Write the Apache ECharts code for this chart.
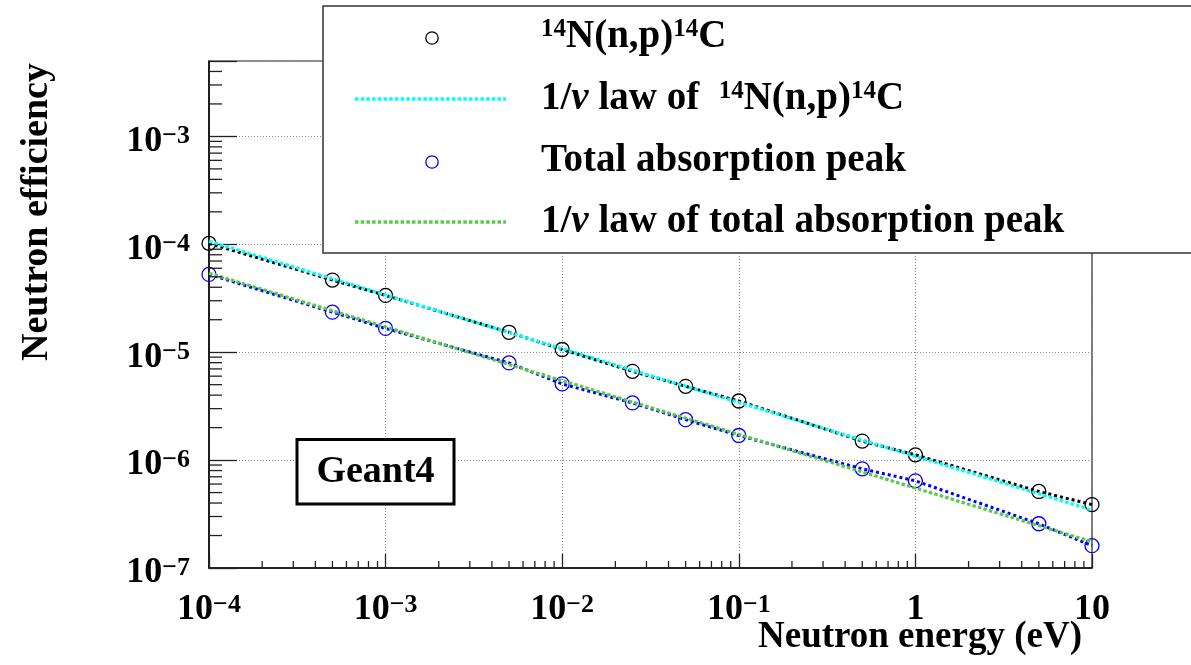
<!DOCTYPE html>
<html><head><meta charset="utf-8">
<script src="https://cdn.jsdelivr.net/npm/echarts@6/dist/echarts.min.js"></script>
<style>html,body{margin:0;padding:0;background:#fff}#c{width:1191px;height:665px}</style>
</head><body><div id="c"></div>
<script>
// ---- data ----
const energies = [1e-4, 5e-4, 1e-3, 5e-3, 1e-2, 2.5e-2, 5e-2, 1e-1, 5e-1, 1, 5, 10];
const effN14  = [1.02e-4, 4.66e-5, 3.36e-5, 1.53e-5, 1.06e-5, 6.65e-6, 4.83e-6, 3.53e-6, 1.50e-6, 1.12e-6, 5.12e-7, 3.87e-7];
const effPeak = [5.26e-5, 2.35e-5, 1.66e-5, 7.96e-6, 5.08e-6, 3.39e-6, 2.37e-6, 1.69e-6, 8.30e-7, 6.43e-7, 2.57e-7, 1.61e-7];
const lawX    = [1e-4, 10];
const lawN14  = [1.07e-4, 3.45e-7];
const lawPeak = [5.4e-5, 1.75e-7];
const xTickValues = [1e-4, 1e-3, 1e-2, 1e-1, 1, 10];
const xTickLabels = ['{m|10}{s|\u22124}', '{m|10}{s|\u22123}', '{m|10}{s|\u22122}', '{m|10}{s|\u22121}', '{m|1}', '{m|10}'];
const yTickValues = [1e-7, 1e-6, 1e-5, 1e-4, 1e-3];
const yTickLabels = ['{m|10}{s|\u22127}', '{m|10}{s|\u22126}', '{m|10}{s|\u22125}', '{m|10}{s|\u22124}', '{m|10}{s|\u22123}'];
const legendNames = [
  '{s|14}{t|N(n,p)}{s|14}{t|C}',
  '{t|1/}{i|v}{t| law of  }{s|14}{t|N(n,p)}{s|14}{t|C}',
  '{t|Total absorption peak}',
  '{t|1/}{i|v}{t| law of total absorption peak}'
];
const xTitle = 'Neutron energy (eV)';
const yTitle = 'Neutron efficiency';
const tag = 'Geant4';

// ---- styling ----
const FF = '"Liberation Serif", "Times New Roman", serif';
const XMIN = 1e-4, XMAX = 10, YMIN = 1e-7, YMAX = 5e-3;
function lookup(vals, labels, v) {
  for (let i = 0; i < vals.length; i++) if (Math.abs(Math.log10(v) - Math.log10(vals[i])) < 1e-6) return labels[i];
  return '';
}
const richAxis = {
  m: {fontFamily: FF, fontWeight: 'bold', fontSize: 36, color: '#000'},
  s: {fontFamily: FF, fontWeight: 'bold', fontSize: 26, color: '#000', verticalAlign: 'top'}
};
const richLeg = {
  t: {fontFamily: FF, fontWeight: 'bold', fontSize: 39, color: '#000'},
  i: {fontFamily: FF, fontWeight: 'bold', fontStyle: 'italic', fontSize: 39, color: '#000'},
  s: {fontFamily: FF, fontWeight: 'bold', fontSize: 25, color: '#000', verticalAlign: 'top'}
};
// minor tick positions (2..9 x each decade)
const xMinor = [], yMinor = [];
for (let d = -4; d <= 0; d++) for (let k = 2; k <= 9; k++) xMinor.push(k * Math.pow(10, d));
for (let d = -7; d <= -3; d++) for (let k = 2; k <= 9; k++) { const v = k * Math.pow(10, d); if (v < YMAX * 0.999) yMinor.push(v); }

const chart = echarts.init(document.getElementById('c'), null, {renderer: 'canvas'});
const GREEN = '#5bc94a';
const option = {
  animation: false,
  backgroundColor: '#fff',
  grid: {left: 209, top: 61, right: 99, bottom: 97, show: true, borderColor: '#222', borderWidth: 1.2, backgroundColor: 'transparent'},
  xAxis: {
    type: 'log', logBase: 10, min: XMIN, max: XMAX,
    axisLine: {show: true, lineStyle: {color: '#000', width: 1.5}},
    axisTick: {show: true, inside: true, length: 14, lineStyle: {color: '#222', width: 1.3}},
    minorTick: {show: false},
    splitLine: {show: true, lineStyle: {color: '#888', width: 1, type: [1, 2]}},
    axisLabel: {margin: 24, formatter: v => lookup(xTickValues, xTickLabels, v), rich: richAxis, showMinLabel: true, showMaxLabel: true}
  },
  yAxis: {
    type: 'log', logBase: 10, min: YMIN, max: YMAX,
    axisLine: {show: true, lineStyle: {color: '#000', width: 1.5}},
    axisTick: {show: true, inside: true, length: 28, lineStyle: {color: '#222', width: 1.3}},
    minorTick: {show: false},
    splitLine: {show: true, lineStyle: {color: '#888', width: 1, type: [1, 2]}},
    axisLabel: {margin: 19, padding: [10, 0, 0, 0], formatter: v => lookup(yTickValues, yTickLabels, v), rich: richAxis}
  },
  series: [
    {type: 'line', name: 'N14', data: energies.map((e, i) => [e, effN14[i]]), clip: false,
     symbol: 'circle', symbolSize: 14, showSymbol: true,
     itemStyle: {color: 'rgba(0,0,0,0)', borderColor: '#000', borderWidth: 1.3},
     lineStyle: {color: '#000', width: 3, type: [3, 3]}, z: 3},
    {type: 'line', name: 'lawN14', data: lawX.map((e, i) => [e, lawN14[i]]), symbol: 'none', showSymbol: false,
     lineStyle: {color: '#00ffff', width: 3.2, type: [3.5, 2.2]}, z: 4},
    {type: 'line', name: 'Peak', data: energies.map((e, i) => [e, effPeak[i]]), clip: false,
     symbol: 'circle', symbolSize: 14, showSymbol: true,
     itemStyle: {color: 'rgba(0,0,0,0)', borderColor: '#0000ff', borderWidth: 1.3},
     lineStyle: {color: '#0000ff', width: 3, type: [3, 3]}, z: 3},
    {type: 'line', name: 'lawPeak', data: lawX.map((e, i) => [e, lawPeak[i]]), symbol: 'none', showSymbol: false,
     lineStyle: {color: GREEN, width: 3.2, type: [3.5, 2.2]}, z: 4},
    {type: 'custom', silent: true, z: 6, data: xMinor.map(v => [v, YMIN]),
     renderItem: (p, api) => { const c = api.coord([api.value(0), api.value(1)]);
       return {type: 'line', shape: {x1: c[0], y1: c[1], x2: c[0], y2: c[1] - 7}, style: {stroke: '#222', lineWidth: 1.3}}; }},
    {type: 'custom', silent: true, z: 6, data: yMinor.map(v => [XMIN, v]),
     renderItem: (p, api) => { const c = api.coord([api.value(0), api.value(1)]);
       return {type: 'line', shape: {x1: c[0], y1: c[1], x2: c[0] + 13, y2: c[1]}, style: {stroke: '#222', lineWidth: 1.3}}; }}
  ],
  graphic: [
    // legend box
    {type: 'rect', z: 100, shape: {x: 323, y: 6, width: 900, height: 247}, style: {fill: '#fff', stroke: '#333', lineWidth: 1.5}},
    {type: 'circle', z: 101, shape: {cx: 432, cy: 38, r: 6.2}, style: {fill: 'none', stroke: '#000', lineWidth: 1.3}},
    {type: 'line', z: 101, shape: {x1: 355, y1: 99, x2: 506, y2: 99}, style: {stroke: '#00ffff', lineWidth: 3.3, lineDash: [3.5, 2.2]}},
    {type: 'circle', z: 101, shape: {cx: 432, cy: 162, r: 6.2}, style: {fill: 'none', stroke: '#0000ff', lineWidth: 1.3}},
    {type: 'line', z: 101, shape: {x1: 355, y1: 222, x2: 506, y2: 222}, style: {stroke: GREEN, lineWidth: 3.3, lineDash: [3.5, 2.2]}},
    {type: 'text', z: 101, x: 541, y: 37, style: {text: legendNames[0], rich: richLeg, align: 'left', verticalAlign: 'middle'}},
    {type: 'text', z: 101, x: 541, y: 99, style: {text: legendNames[1], rich: richLeg, align: 'left', verticalAlign: 'middle'}},
    {type: 'text', z: 101, x: 541, y: 161, style: {text: legendNames[2], rich: richLeg, align: 'left', verticalAlign: 'middle'}},
    {type: 'text', z: 101, x: 541, y: 222, style: {text: legendNames[3], rich: richLeg, align: 'left', verticalAlign: 'middle'}},
    // Geant4 tag
    {type: 'rect', z: 100, shape: {x: 297, y: 439.5, width: 157, height: 64.5}, style: {fill: '#fff', stroke: '#000', lineWidth: 3}},
    {type: 'text', z: 101, x: 375.5, y: 472, style: {text: tag, fontFamily: FF, fontWeight: 'bold', fontSize: 38, fill: '#000', align: 'center', verticalAlign: 'middle'}},
    // axis titles
    {type: 'text', z: 101, x: 1082, y: 637, style: {text: xTitle, fontFamily: FF, fontWeight: 'bold', fontSize: 37, fill: '#000', align: 'right', verticalAlign: 'middle'}},
    {type: 'text', z: 101, x: 37, y: 212, rotation: Math.PI / 2, style: {text: yTitle, fontFamily: FF, fontWeight: 'bold', fontSize: 38, fill: '#000', align: 'center', verticalAlign: 'middle'}}
  ]
};
chart.setOption(option);
</script></body></html>
